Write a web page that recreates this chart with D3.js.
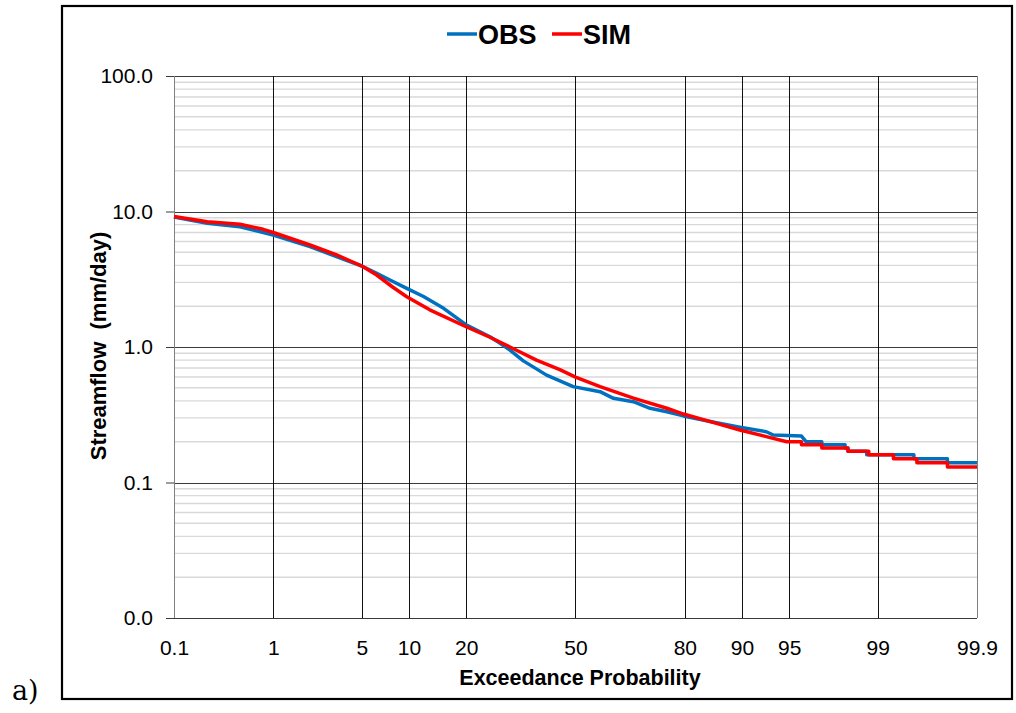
<!DOCTYPE html>
<html>
<head>
<meta charset="utf-8">
<script src="https://cdn.jsdelivr.net/npm/d3@7"></script>
<style>
  body { margin: 0; background: #fff; }
  text { font-family: "Liberation Sans", Arial, sans-serif; }
</style>
</head>
<body>
<svg id="chart" width="1016" height="713"></svg>
<script>
// ---- data ---------------------------------------------------------------
const seriesNames = ["OBS", "SIM"];
const probTicks = [0.1, 1, 5, 10, 20, 50, 80, 90, 95, 99, 99.9];   // exceedance probability, %
const flowTicks = [0.01, 0.1, 1, 10, 100];                          // mm/day

// observed flow duration curve
const obsProb = [0.1, 0.23, 0.49, 1.0, 2.05, 5.0, 6.3, 7.66, 9.7, 12.1, 15.5, 20.1, 25.5, 28.0, 30.7,
  34.4, 41.2, 49.3, 57.5, 61.5, 67.2, 71.7, 75.9, 79.7, 86.1, 89.7, 92.9, 93.6, 95.9, 96.2,
  97.1, 97.1, 98.1, 98.1, 98.2, 98.2, 98.75, 98.75, 99.54, 99.54, 99.79, 99.79, 99.9];
const obsFlow = [9.1, 8.18, 7.72, 6.7, 5.5, 3.96, 3.5, 3.12, 2.71, 2.36, 1.93, 1.45, 1.19, 1.07, 0.95,
  0.79, 0.62, 0.51, 0.468, 0.418, 0.395, 0.353, 0.333, 0.31, 0.276, 0.256, 0.237, 0.224, 0.22, 0.20,
  0.20, 0.19, 0.19, 0.18, 0.18, 0.17, 0.17, 0.16, 0.16, 0.15, 0.15, 0.14, 0.14];

// simulated flow duration curve
const simProb = [0.1, 0.23, 0.49, 0.81, 1.0, 2.05, 3.3, 5.0, 6.3, 8.0, 9.7, 13.1, 20.0, 25.5, 30.7,
  38.2, 45.2, 50, 57.5, 67.2, 75.9, 79.7, 86.1, 89.7, 92.9, 94.8, 95.9, 95.9, 97.1, 97.1, 98.2, 98.2,
  98.8, 98.8, 99.28, 99.28, 99.57, 99.57, 99.79, 99.79, 99.9];
const simFlow = [9.2, 8.41, 8.05, 7.39, 7.0, 5.66, 4.78, 3.96, 3.4, 2.76, 2.35, 1.88, 1.41, 1.18, 1.0,
  0.80, 0.68, 0.60, 0.51, 0.42, 0.353, 0.32, 0.273, 0.244, 0.218, 0.20, 0.20, 0.19, 0.19, 0.18, 0.18, 0.17,
  0.17, 0.16, 0.16, 0.15, 0.15, 0.14, 0.14, 0.13, 0.13];

// ---- styles & layout ------------------------------------------------------
const colors = { OBS: "#0070C0", SIM: "#FF0000" };
const plot = { left: 174, right: 977, top: 76, bottom: 618 };
const svg = d3.select("#chart");

// inverse standard normal CDF (Acklam's rational approximation)
function probit(p) {
  const a = [-3.969683028665376e+01, 2.209460984245205e+02, -2.759285104469687e+02, 1.383577518672690e+02, -3.066479806614716e+01, 2.506628277459239e+00];
  const b = [-5.447609879822406e+01, 1.615858368580409e+02, -1.556989798598866e+02, 6.680131188771972e+01, -1.328068155288572e+01];
  const c = [-7.784894002430293e-03, -3.223964580411365e-01, -2.400758277161838e+00, -2.549732539343734e+00, 4.374664141464968e+00, 2.938163982698783e+00];
  const d = [7.784695709041462e-03, 3.224671290700398e-01, 2.445134137142996e+00, 3.754408661907416e+00];
  const pl = 0.02425, ph = 1 - pl;
  let q, r;
  if (p < pl) {
    q = Math.sqrt(-2 * Math.log(p));
    return (((((c[0]*q+c[1])*q+c[2])*q+c[3])*q+c[4])*q+c[5]) / ((((d[0]*q+d[1])*q+d[2])*q+d[3])*q+1);
  }
  if (p <= ph) {
    q = p - 0.5; r = q * q;
    return (((((a[0]*r+a[1])*r+a[2])*r+a[3])*r+a[4])*r+a[5])*q / (((((b[0]*r+b[1])*r+b[2])*r+b[3])*r+b[4])*r+1);
  }
  q = Math.sqrt(-2 * Math.log(1 - p));
  return -(((((c[0]*q+c[1])*q+c[2])*q+c[3])*q+c[4])*q+c[5]) / ((((d[0]*q+d[1])*q+d[2])*q+d[3])*q+1);
}

// normal-probability x scale (works on z-scores), log y scale
const z = pct => probit(pct / 100);
const xz = d3.scaleLinear()
  .domain([z(probTicks[0]), z(probTicks[probTicks.length - 1])])
  .range([plot.left, plot.right]);
const x = pct => xz(z(pct));
const y = d3.scaleLog().domain([flowTicks[0], flowTicks[flowTicks.length - 1]]).range([plot.bottom, plot.top]);

// outer frame
svg.append("rect")
  .attr("x", 62).attr("y", 6).attr("width", 950).attr("height", 693)
  .attr("fill", "#fff").attr("stroke", "#000").attr("stroke-width", 2.2);

// minor horizontal gridlines (2..9 within each decade)
const minor = [];
for (let i = 0; i < flowTicks.length - 1; i++)
  for (let k = 2; k <= 9; k++) minor.push(flowTicks[i] * k);
svg.append("g").selectAll("line").data(minor).join("line")
  .attr("x1", plot.left).attr("x2", plot.right)
  .attr("y1", d => y(d)).attr("y2", d => y(d))
  .attr("stroke", "#d9d9d9").attr("stroke-width", 1.4);

// major horizontal gridlines
svg.append("g").selectAll("line").data(flowTicks).join("line")
  .attr("x1", plot.left).attr("x2", plot.right)
  .attr("y1", d => Math.round(y(d)) + 0.5).attr("y2", d => Math.round(y(d)) + 0.5)
  .attr("stroke", "#3a3a3a").attr("stroke-width", 1);

// vertical gridlines at probability ticks
svg.append("g").selectAll("line").data(probTicks).join("line")
  .attr("x1", d => Math.round(x(d)) + 0.5).attr("x2", d => Math.round(x(d)) + 0.5)
  .attr("y1", plot.top).attr("y2", plot.bottom)
  .attr("stroke", (d, i) => (i === 0 || i === probTicks.length - 1) ? "#808080" : "#111")
  .attr("stroke-width", 1);

// y axis
const yAxis = svg.append("g")
  .attr("transform", `translate(${plot.left},0)`)
  .call(d3.axisLeft(y).tickValues(flowTicks).tickFormat(d3.format(".1f")).tickSize(8).tickPadding(13));
yAxis.select(".domain").remove();
yAxis.selectAll(".tick line").attr("stroke", "#3a3a3a");
yAxis.selectAll("text").attr("font-size", 21).attr("fill", "#000")
  .style("font-family", '"Liberation Sans", Arial, sans-serif');

// x axis
const xAxis = svg.append("g")
  .attr("transform", `translate(0,${plot.bottom})`)
  .call(d3.axisBottom(xz).tickValues(probTicks.map(z)).tickFormat((d, i) => probTicks[i]).tickSize(0).tickPadding(22));
xAxis.select(".domain").remove();
xAxis.selectAll("text").attr("font-size", 21).attr("fill", "#000")
  .style("font-family", '"Liberation Sans", Arial, sans-serif');

// curves
const line = d3.line().x(d => x(d[0])).y(d => y(d[1]));
const series = [
  { name: seriesNames[0], pts: d3.zip(obsProb, obsFlow) },
  { name: seriesNames[1], pts: d3.zip(simProb, simFlow) }
];
svg.append("g").selectAll("path").data(series).join("path")
  .attr("d", d => line(d.pts))
  .attr("fill", "none")
  .attr("stroke", d => colors[d.name])
  .attr("stroke-width", 3.5)
  .attr("stroke-linejoin", "round");

// legend
const legend = svg.append("g");
const legendX = [447, 552];
series.forEach((s, i) => {
  legend.append("line")
    .attr("x1", legendX[i]).attr("x2", legendX[i] + 30)
    .attr("y1", 34).attr("y2", 34)
    .attr("stroke", colors[s.name]).attr("stroke-width", 3.5);
  legend.append("text")
    .attr("x", legendX[i] + 31).attr("y", 44)
    .attr("font-size", 27).attr("font-weight", "bold")
    .text(s.name);
});

// axis titles
svg.append("text")
  .attr("x", 580).attr("y", 685)
  .attr("text-anchor", "middle").attr("font-size", 21.5).attr("font-weight", "bold")
  .text("Exceedance Probability");
svg.append("text")
  .attr("transform", "translate(106,346) rotate(-90)")
  .attr("text-anchor", "middle").attr("font-size", 22).attr("font-weight", "bold")
  .style("white-space", "pre")
  .text("Streamflow  (mm/day)");

// panel label
svg.append("text")
  .attr("x", 12).attr("y", 700)
  .attr("font-size", 27)
  .style("font-family", '"DejaVu Serif", "Liberation Serif", serif')
  .text("a)");
</script>
</body>
</html>
